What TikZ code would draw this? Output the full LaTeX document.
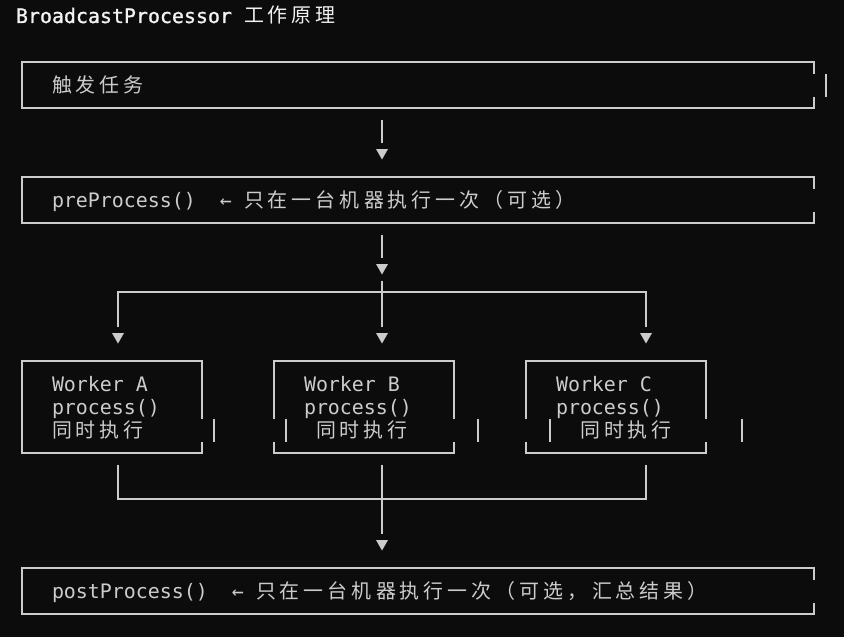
\documentclass[tikz,border=0pt]{standalone}
\usepackage{fontspec}
\setmonofont{DejaVu Sans Mono}
\newfontfamily\cjkfont{Noto Sans CJK SC}
\newfontfamily\titlefont[FakeBold=1.2]{DejaVu Sans Mono}
\definecolor{bg}{HTML}{0C0C0C}
\definecolor{fg}{HTML}{CCCCCC}
\definecolor{tt}{HTML}{F2F2F2}
\makeatletter
\def\cjkrow#1{{\cjkfont\cjk@loop#1\@nil}}
\def\cjk@loop#1{\ifx#1\@nil\else\makebox[24pt][l]{#1}\expandafter\cjk@loop\fi}
\makeatother
\begin{document}
\begin{tikzpicture}[x=1pt,y=-1pt,
  ln/.style={draw=fg,line width=2.1pt},
  txt/.style={inner sep=0pt,outer sep=0pt,anchor=base west,text=fg,font=\ttfamily\fontsize{19.93}{23}\selectfont},
  ttl/.style={txt,text=tt},
  tri/.pic={\fill[fg] (-6,-5)--(6,-5)--(0,5.5)--cycle;}]
\fill[bg] (0,0) rectangle (844,637);
\useasboundingbox (0,0) rectangle (844,637);

% ---- title
\node[ttl,font=\titlefont\fontsize{19.93}{23}\selectfont] (title) at (16,23) {BroadcastProcessor};
\node[ttl] (titlecjk) at (244,23) {\cjkrow{工作原理}};

% ---- trigger box
\draw[ln] (814,73.5)--(814,62)--(22,62)--(22,108)--(814,108)--(814,96.5);
\draw[ln] (826,73.5)--(826,96.5);
\node[txt] (trigger) at (52,92) {\cjkrow{触发任务}};

% arrow 1
\coordinate (a1s) at (382,119.5);
\coordinate (a1e) at (382,142.5);
\draw[ln] (a1s)--(a1e);
\pic at (382,154) {tri};

% ---- preProcess box
\draw[ln] (814,188.5)--(814,177)--(22,177)--(22,223)--(814,223)--(814,211.5);
\node[txt] (pre) at (52,207) {preProcess()~~←};
\node[txt] (precjk) at (244,207) {\cjkrow{只在一台机器执行一次（可选）}};

% arrow 2
\coordinate (a2s) at (382,234.5);
\coordinate (a2e) at (382,257.5);
\draw[ln] (a2s)--(a2e);
\pic at (382,269) {tri};

% ---- fork
\coordinate (fl) at (118,292);
\coordinate (fr) at (646,292);
\draw[ln] (118,326.5)--(fl)--(fr)--(646,326.5);
\draw[ln] (382,280.5)--(382,326.5);
\pic at (118,338) {tri};
\pic at (382,338) {tri};
\pic at (646,338) {tri};

% ---- worker A
\draw[ln] (202,418.5)--(202,361)--(22,361)--(22,453)--(202,453)--(202,441.5);
\draw[ln] (214,418.5)--(214,441.5);
\node[txt] (wa1) at (52,391) {Worker A};
\node[txt] (wa2) at (52,414) {process()};
\node[txt] (wa3) at (52,437) {\cjkrow{同时执行}};

% ---- worker B
\draw[ln] (274,418.5)--(274,361)--(454,361)--(454,418.5);
\draw[ln] (274,441.5)--(274,453)--(454,453)--(454,441.5);
\draw[ln] (286,418.5)--(286,441.5);
\draw[ln] (478,418.5)--(478,441.5);
\node[txt] (wb1) at (304,391) {Worker B};
\node[txt] (wb2) at (304,414) {process()};
\node[txt] (wb3) at (316,437) {\cjkrow{同时执行}};

% ---- worker C
\draw[ln] (526,418.5)--(526,361)--(706,361)--(706,418.5);
\draw[ln] (526,441.5)--(526,453)--(706,453)--(706,441.5);
\draw[ln] (550,418.5)--(550,441.5);
\draw[ln] (742,418.5)--(742,441.5);
\node[txt] (wc1) at (556,391) {Worker C};
\node[txt] (wc2) at (556,414) {process()};
\node[txt] (wc3) at (580,437) {\cjkrow{同时执行}};

% ---- join
\coordinate (jl) at (118,499);
\coordinate (jr) at (646,499);
\draw[ln] (118,464.5)--(jl)--(jr)--(646,464.5);
\draw[ln] (382,464.5)--(382,533.5);
\pic at (382,545) {tri};

% ---- postProcess box
\draw[ln] (814,579.5)--(814,568)--(22,568)--(22,614)--(814,614)--(814,602.5);
\node[txt] (post) at (52,598) {postProcess()~~←};
\node[txt] (postcjk) at (256,598) {\cjkrow{只在一台机器执行一次（可选，汇总结果）}};
\end{tikzpicture}
\end{document}
